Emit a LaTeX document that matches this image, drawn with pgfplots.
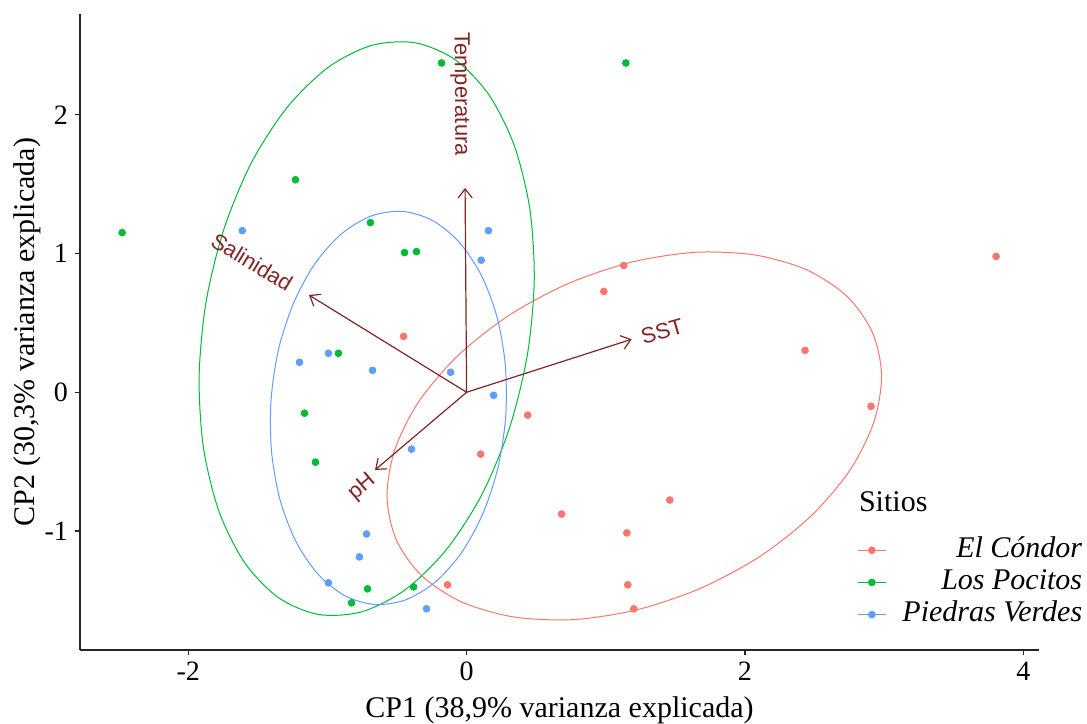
\documentclass[border=0pt]{standalone}
\usepackage{fontspec}
\setmainfont{Liberation Serif}
\newfontfamily\arialf{Liberation Sans}
\usepackage{pgfplots}
\pgfplotsset{compat=1.18}
\usetikzlibrary{arrows.meta}

\definecolor{cR}{HTML}{F8766D}
\definecolor{cG}{HTML}{00BA38}
\definecolor{cB}{HTML}{619CFF}
\definecolor{varc}{HTML}{832424}

\begin{document}
\begin{tikzpicture}
\useasboundingbox (-40pt,-36.5pt) rectangle (503.5pt,325pt);
\begin{axis}[
  scale only axis, width=479.5pt, height=318pt,
  xmin=-2.778, xmax=4.113, ymin=-1.858, ymax=2.727,
  clip=false,
  axis lines*=left,
  axis line style={line width=0.65pt, black!85},
  tick style={line width=0.65pt, black!85},
  tick align=outside, major tick length=2.5pt,
  xtick={-2,0,2,4}, xticklabels={-2,0,2,4},
  ytick={-1,0,1,2}, yticklabels={-1,0,1,2},
  ticklabel style={font=\fontsize{14}{16}\selectfont},
  xlabel={CP1 (38,9\% varianza explicada)},
  ylabel={CP2 (30,3\% varianza explicada)},
  label style={font=\fontsize{15}{18}\selectfont},
  xlabel style={at={(axis description cs:0.5,-0.0943)}, anchor=center},
  ylabel style={at={(axis description cs:-0.0553,0.5)}, anchor=center},
  legend cell align=right,
  legend style={at={(axis description cs:1.045,0.032)}, anchor=south east,
    draw=none, fill=none, inner sep=0pt, outer sep=0pt,
    font=\fontsize{15}{18}\selectfont\itshape, row sep=1.1pt, column sep=8pt,
    nodes={inner sep=0pt, text height=11pt, text depth=4pt}},
  legend image code/.code={\draw[#1, line width=0.6pt] (-1.5pt,0pt) -- (12.5pt,0pt);
    \fill[#1] (5.5pt,0pt) circle (1.7pt);},
]
% puntos por sitio
\addplot[only marks, mark=*, mark size=1.7pt, cR, forget plot] coordinates {
  (-0.453,0.403) (0.439,-0.165) (0.101,-0.446) (-0.137,-1.388) (1.129,0.914)
  (0.986,0.727) (2.432,0.302) (2.906,-0.101) (0.683,-0.878) (1.460,-0.777)
  (1.151,-1.014) (1.158,-1.388) (1.201,-1.561) (3.805,0.979)};
\addplot[only marks, mark=*, mark size=1.7pt, cG, forget plot] coordinates {
  (-2.475,1.151) (-1.230,1.532) (-0.180,2.374) (1.144,2.374) (-0.691,1.223)
  (-0.446,1.007) (-0.360,1.014) (-0.921,0.281) (-1.165,-0.151) (-1.086,-0.504)
  (-0.712,-1.417) (-0.827,-1.518) (-0.381,-1.403)};
\addplot[only marks, mark=*, mark size=1.7pt, cB, forget plot] coordinates {
  (-1.612,1.165) (0.157,1.165) (0.105,0.952) (-1.201,0.216) (-0.993,0.281)
  (-0.676,0.158) (-0.115,0.144) (0.194,-0.022) (-0.396,-0.410) (-0.719,-1.022)
  (-0.770,-1.187) (-0.993,-1.374) (-0.288,-1.561)};

% elipses
\addplot[cR, line width=0.5pt, smooth cycle, forget plot] coordinates {
  (2.916,0.432) (2.734,0.691) (2.447,0.881) (2.076,0.989) (1.646,1.009) (1.185,0.938)
  (0.726,0.782) (0.299,0.551) (-0.066,0.261) (-0.344,-0.068) (-0.516,-0.414) (-0.572,-0.753)
  (-0.506,-1.062) (-0.324,-1.321) (-0.037,-1.511) (0.334,-1.619) (0.764,-1.639) (1.225,-1.568)
  (1.684,-1.412) (2.111,-1.181) (2.476,-0.891) (2.754,-0.562) (2.926,-0.216) (2.982,0.123)};
\addplot[cG, line width=0.5pt, smooth cycle, forget plot] coordinates {
  (-0.373,2.520) (-0.684,2.500) (-0.996,2.341) (-1.290,2.053) (-1.545,1.657) (-1.743,1.179)
  (-1.872,0.652) (-1.922,0.112) (-1.890,-0.405) (-1.778,-0.862) (-1.594,-1.230) (-1.350,-1.482)
  (-1.063,-1.602) (-0.752,-1.582) (-0.440,-1.423) (-0.146,-1.135) (0.109,-0.739) (0.307,-0.261)
  (0.436,0.266) (0.486,0.806) (0.454,1.323) (0.342,1.780) (0.158,2.148) (-0.086,2.400)};
\addplot[cB, line width=0.5pt, smooth cycle, forget plot] coordinates {
  (-0.463,1.304) (-0.685,1.271) (-0.898,1.143) (-1.088,0.930) (-1.242,0.646) (-1.351,0.311)
  (-1.405,-0.054) (-1.402,-0.423) (-1.342,-0.770) (-1.228,-1.073) (-1.069,-1.310) (-0.876,-1.466)
  (-0.661,-1.530) (-0.439,-1.497) (-0.226,-1.369) (-0.036,-1.156) (0.118,-0.872) (0.227,-0.537)
  (0.281,-0.172) (0.278,0.197) (0.218,0.544) (0.104,0.847) (-0.055,1.084) (-0.248,1.240)};

% vectores de variables
\addplot[varc, line width=0.6pt, -{Straight Barb[length=4.5pt,width=7pt]}, forget plot]
  coordinates {(0,0) (-0.011,1.473)};
\addplot[varc, line width=0.6pt, -{Straight Barb[length=4.5pt,width=7pt]}, forget plot]
  coordinates {(0,0) (-1.133,0.701)};
\addplot[varc, line width=0.6pt, -{Straight Barb[length=4.5pt,width=7pt]}, forget plot]
  coordinates {(0,0) (1.186,0.382)};
\addplot[varc, line width=0.6pt, -{Straight Barb[length=4.5pt,width=7pt]}, forget plot]
  coordinates {(0,0) (-0.658,-0.560)};

\node[varc, font=\arialf\fontsize{11}{13}\selectfont, rotate=-89.6] at (axis cs:-0.045,2.150) {Temperatura};
\node[varc, font=\arialf\fontsize{11}{13}\selectfont, rotate=-31.4] at (axis cs:-1.542,0.939) {Salinidad};
\node[varc, font=\arialf\fontsize{11}{13}\selectfont, rotate=16] at (axis cs:1.405,0.440) {SST};
\node[varc, font=\arialf\fontsize{11}{13}\selectfont, rotate=40.4] at (axis cs:-0.751,-0.682) {pH};

\node[anchor=base west, font=\fontsize{15}{18}\selectfont] at (axis description cs:0.805,0.2175) {Sitios};

\addlegendimage{color=cR}
\addlegendentry{El Cóndor}
\addlegendimage{color=cG}
\addlegendentry{Los Pocitos}
\addlegendimage{color=cB}
\addlegendentry{Piedras Verdes}
\end{axis}
\end{tikzpicture}
\end{document}
